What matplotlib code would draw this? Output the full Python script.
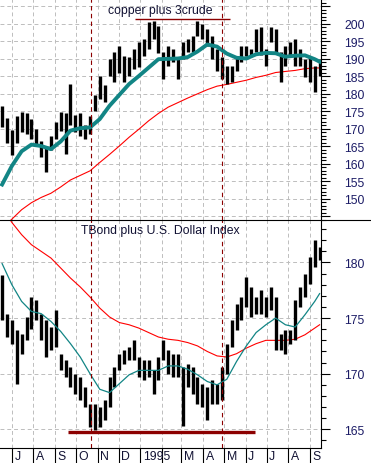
import datetime as dt
import matplotlib
matplotlib.use('Agg')
import matplotlib.pyplot as plt
import matplotlib.dates as mdates
from matplotlib.lines import Line2D
from matplotlib.ticker import MultipleLocator, FuncFormatter
from matplotlib.transforms import blended_transform_factory, offset_copy

plt.rcParams['font.family'] = ['Liberation Sans', 'DejaVu Sans']

# weekly bars, first friday 1994-06-17
FIRST_WEEK = dt.date(1994, 6, 17)
N_WEEKS = 66

# copper plus 3crude, weekly high / low
top_high = [176.5, 173.0, 169.5, 173.6, 174.7, 174.4, 172.7, 170.0, 166.5, 165.0,
            168.0, 172.0, 174.7, 174.5, 182.7, 174.0, 174.4, 171.0, 173.6, 179.5,
            185.0, 182.5, 190.0, 192.0, 193.6, 190.7, 190.3, 192.7, 194.7, 195.6,
            200.4, 200.8, 199.3, 191.9, 193.6, 192.7, 190.0, 194.7, 195.6, 196.4,
            200.7, 200.0, 198.4, 196.4, 192.7, 190.4, 188.0, 188.0, 190.7, 193.6,
            193.6, 192.7, 198.4, 199.0, 192.7, 199.0, 198.3, 191.9, 193.6, 194.7,
            195.6, 192.7, 189.9, 190.3, 188.0, 189.9]
top_low = [170.5, 166.0, 162.5, 166.0, 169.0, 168.5, 167.0, 165.5, 162.0, 157.6,
           164.0, 167.0, 169.3, 162.7, 171.0, 169.0, 167.9, 167.0, 168.5, 175.0,
           178.4, 177.6, 185.0, 183.3, 186.0, 183.3, 185.0, 187.0, 187.5, 190.7,
           192.7, 195.6, 191.5, 184.1, 187.9, 189.0, 184.1, 189.9, 191.9, 191.9,
           196.4, 195.6, 193.6, 189.9, 186.4, 184.1, 182.7, 183.3, 186.4, 189.0,
           190.7, 190.7, 191.9, 191.0, 187.9, 194.7, 191.9, 183.3, 187.9, 190.4,
           188.0, 187.9, 184.7, 183.3, 180.4, 185.0]
# moving averages, read every other week plus the last week
top_ma_fast = [154.0, 159.3, 163.5, 165.4, 165.0, 164.1, 166.3, 169.4, 170.1, 170.3,
               172.7, 176.5, 179.6, 182.7, 185.0, 187.4, 189.8, 189.9, 190.0, 190.4,
               192.0, 194.0, 193.4, 191.4, 190.2, 190.0, 191.2, 191.6, 191.5, 190.5,
               190.8, 190.9, 189.8, 189.1]
top_ma_slow = [141.5, 144.1, 146.8, 148.8, 150.3, 151.5, 153.3, 155.3, 156.6, 157.9,
               160.3, 162.6, 165.0, 167.5, 169.8, 172.2, 174.3, 176.1, 177.4, 178.7,
               179.9, 181.1, 182.1, 182.6, 183.2, 183.8, 184.6, 185.2, 186.0, 186.3,
               186.6, 187.1, 187.3, 187.3]

# TBond plus U.S. Dollar Index, weekly high / low
bot_high = [178.9, 175.4, 174.8, 173.9, 173.6, 175.1, 176.9, 176.6, 175.4, 174.8,
            174.2, 175.7, 171.8, 171.2, 170.6, 170.0, 169.7, 168.8, 167.3, 167.3,
            167.0, 167.6, 169.7, 170.6, 171.8, 172.1, 172.4, 173.0, 171.5, 171.2,
            171.2, 170.3, 171.5, 173.0, 172.1, 171.8, 171.8, 170.6, 170.9, 170.6,
            169.7, 169.1, 168.8, 169.4, 169.1, 170.6, 172.7, 174.8, 176.3, 176.9,
            178.7, 177.8, 176.9, 177.5, 176.9, 177.8, 176.9, 173.6, 173.9, 173.9,
            176.6, 177.8, 179.0, 180.5, 182.0, 181.4]
bot_low = [174.8, 173.3, 172.7, 169.1, 171.8, 173.0, 174.0, 174.8, 173.0, 171.5,
           172.1, 172.4, 170.3, 169.7, 168.8, 168.2, 167.6, 167.0, 165.2, 164.9,
           165.2, 165.8, 167.0, 168.8, 170.3, 170.9, 171.2, 171.2, 169.7, 169.4,
           169.7, 168.2, 169.4, 171.2, 170.0, 169.7, 169.7, 165.3, 168.8, 168.2,
           167.3, 167.0, 165.8, 167.3, 167.3, 167.6, 170.0, 172.4, 173.9, 174.8,
           176.0, 175.1, 175.4, 175.4, 175.1, 175.7, 172.1, 172.1, 171.8, 172.7,
           173.0, 176.0, 176.9, 178.1, 179.6, 180.2]
bot_ma_fast = [179.9, 178.0, 176.5, 175.6, 175.4, 174.7, 173.8, 172.7, 171.5, 170.0,
               168.6, 168.3, 169.1, 169.9, 170.3, 170.3, 170.3, 170.7, 170.7, 170.4,
               169.9, 169.3, 169.0, 169.5, 171.1, 172.5, 173.7, 174.4, 175.0, 174.4,
               174.2, 175.3, 176.5, 177.2]
bot_ma_slow = [185.0, 183.6, 182.5, 181.6, 181.0, 180.4, 179.5, 178.6, 177.8, 176.9,
               175.9, 175.1, 174.6, 174.4, 174.1, 173.7, 173.3, 173.1, 173.0, 172.8,
               172.5, 172.0, 171.6, 171.5, 171.8, 172.3, 172.7, 173.0, 173.0, 173.0,
               173.1, 173.5, 174.1, 174.4]

month_labels = ['J', 'A', 'S', 'O', 'N', 'D', '1995', '', 'M', 'A', 'M', 'J', 'J', 'A', 'S']

marker_dates = [dt.date(1994, 10, 22), dt.date(1995, 4, 28)]
top_level = (201.2, dt.date(1994, 12, 25), dt.date(1995, 5, 9))
bot_level = (164.75, dt.date(1994, 9, 20), dt.date(1995, 6, 14))

weeks = [FIRST_WEEK + dt.timedelta(days=7 * i) for i in range(N_WEEKS)]
ma_weeks = [weeks[i] for i in list(range(0, N_WEEKS, 2)) + [N_WEEKS - 1]]

W, H = 371, 464
fig = plt.figure(figsize=(W / 100, H / 100), dpi=100)
ax1 = fig.add_axes([0, 1 - 221 / H, 321 / W, 221 / H])
ax2 = fig.add_axes([0, 1 - 449 / H, 321 / W, 228 / H])

TEAL = '#128585'
DARKRED = '#8c0000'
NAVY = '#1c1c66'
x0, x1 = dt.date(1994, 6, 14), dt.date(1995, 9, 17)

panels = [
    (ax1, top_high, top_low, top_ma_fast, top_ma_slow, (143.86, 207.0), 2.8,
     'copper plus 3crude', 0.95, top_level, 1.0),
    (ax2, bot_high, bot_low, bot_ma_fast, bot_ma_slow, (163.32, 183.82), 0.9,
     'TBond plus U.S. Dollar Index', 0.955, bot_level, 2.4),
]

for ax, hi, lo, fast, slow, ylim, fast_lw, title, ty, level, level_lw in panels:
    ax.vlines(weeks, lo, hi, color='black', lw=2.4, zorder=3)
    ax.plot(ma_weeks, slow, color='red', lw=0.8, zorder=2)
    ax.plot(ma_weeks, fast, color=TEAL, lw=fast_lw, zorder=4)
    for d in marker_dates:
        ax.axvline(d, color=DARKRED, lw=0.8, ls=(0, (4, 3)), zorder=5)
    ax.hlines(level[0], level[1], level[2], color=DARKRED, lw=level_lw, zorder=5)
    ax.text(0.5, ty, title, transform=ax.transAxes, ha='center', va='center',
            fontsize=8.8, color='#111133', zorder=6)

    ax.set_xlim(x0, x1)
    ax.set_ylim(*ylim)
    ax.xaxis.set_major_locator(mdates.MonthLocator())
    ax.yaxis.set_major_locator(MultipleLocator(5))
    ax.yaxis.set_minor_locator(MultipleLocator(1))
    ax.yaxis.tick_right()
    ax.tick_params(axis='y', which='major', direction='out', length=6.5, width=0.8,
                   pad=10.5, labelsize=8.8, labelcolor=NAVY, color='black')
    ax.tick_params(axis='y', which='minor', direction='out', length=3.6, width=0.8,
                   color='black')
    ax.grid(True, which='major', color='#bdbdbd', lw=0.7, ls=(0, (4, 3)), zorder=0)
    for side in ['top', 'left', 'bottom']:
        ax.spines[side].set_visible(False)
    ax.spines['right'].set_linewidth(0.8)

ax1.tick_params(axis='x', length=0, labelbottom=False)
ax1.yaxis.set_major_formatter(FuncFormatter(lambda v, p: f'{v:.0f}' if 150 <= v <= 200 else ''))
ax2.yaxis.set_major_formatter(FuncFormatter(lambda v, p: f'{v:.0f}'))

ax2.spines['bottom'].set_visible(True)
ax2.spines['bottom'].set_linewidth(0.8)
ax2.tick_params(axis='x', direction='out', length=10.5, width=0.8, labelbottom=False)

trans = blended_transform_factory(ax2.transData, ax2.transAxes)
trans = offset_copy(trans, fig=fig, x=2.5, y=-8.5, units='dots')
month_starts = [dt.date(1994 + (6 + i) // 12, (6 + i) % 12 + 1, 1) for i in range(len(month_labels))]
for d, lab in zip(month_starts, month_labels):
    ax2.text(d, 0, lab, transform=trans, ha='left', va='center', fontsize=8.8,
             color='#111133')

fig.add_artist(Line2D([0, 1], [1 - 221 / H] * 2, color='black', lw=0.8,
                      transform=fig.transFigure))

fig.savefig('out.png', dpi=100)
